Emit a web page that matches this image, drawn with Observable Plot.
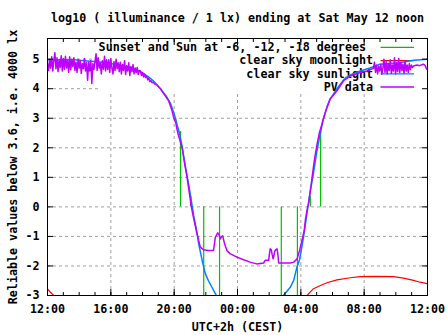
<!DOCTYPE html>
<html><head><meta charset="utf-8">
<script src="https://cdn.jsdelivr.net/npm/d3@7"></script>
<script src="https://cdn.jsdelivr.net/npm/@observablehq/plot@0.6"></script>
<style>body{margin:0;background:#fff}</style>
</head><body><div id="chart"></div>
<script>
// ---- texts ----
const title = "log10 ( illuminance / 1 lx) ending at Sat May 12 noon";
const xLabel = "UTC+2h (CEST)";
const yLabel = "Reliable values below 3.6, i.e. 4000 lx";
const keyLabels = ["Sunset and Sun at -6, -12, -18 degrees", "clear sky moonlight", "clear sky sunlight", "PV data"];
const keyColors = ["#00c000", "#ff0000", "#0080ff", "#c000ff"];

// ---- ticks ----
const xTickTimes = ["11 12:00","11 16:00","11 20:00","12 00:00","12 04:00","12 08:00","12 12:00"];
const xTickLabels = ["12:00","16:00","20:00","00:00","04:00","08:00","12:00"];
const yTicks = [-3,-2,-1,0,1,2,3,4,5];
const xDomain = ["11 12:00", "12 12:00"];
const yDomain = [-3, 5.7];
const keyLeftTime = "11 15:20";   // grid hidden behind the key box
const keyBottomValue = 3.86;

// ---- clear sky sunlight (blue) ----
const sunTimes = ["11 12:00","11 13:40","11 14:30","11 15:30","11 16:30","11 17:20","11 17:52","11 18:20","11 18:41","11 19:08","11 19:30","11 19:46","11 19:58","11 20:05","11 20:12","11 20:20","11 20:30","11 20:40","11 20:50","11 20:58","11 21:06","11 21:14","11 21:24","11 21:33","11 21:46","11 21:58","11 22:10","11 22:23","11 22:40","11 22:55",
  "12 02:40","12 02:54","12 03:20","12 03:33","12 03:45","12 03:55","12 04:00","12 04:10","12 04:23","12 04:36","12 04:48","12 05:01","12 05:14","12 05:26","12 05:39","12 05:51","12 06:17","12 06:42","12 07:07","12 07:45","12 08:22","12 09:00","12 10:16","12 11:07","12 12:00"];
const sunValues = [4.98,4.98,4.94,4.9,4.8,4.68,4.58,4.42,4.27,4.0,3.75,3.5,3.2,3.0,2.75,2.5,2.05,1.5,1.0,0.6,0.15,-0.3,-0.75,-1.25,-1.81,-2.26,-2.5,-2.72,-3.0,-3.3,
  -3.3,-3.0,-2.72,-2.49,-2.05,-1.79,-1.55,-1.03,-0.24,0.55,1.15,1.9,2.5,3.0,3.38,3.65,4.0,4.3,4.47,4.6,4.7,4.83,4.88,4.96,5.0];

// ---- clear sky moonlight (red) ----
const moonTimes = ["11 12:00","11 12:10","11 12:24","11 12:32","12 04:15","12 04:23","12 04:48","12 05:14","12 05:39","12 06:17","12 07:07","12 07:45","12 08:48","12 09:51","12 10:29","12 11:07","12 11:32","12 12:00"];
const moonValues = [-2.78,-2.88,-3.0,-3.3,-3.3,-3.0,-2.77,-2.66,-2.57,-2.47,-2.4,-2.36,-2.35,-2.36,-2.41,-2.49,-2.55,-2.6];

// ---- sunset and Sun at -6, -12 degrees (green) ----
const horizonTimes = ["11 20:24","11 21:03","11 21:52","11 22:52","12 02:46","12 03:47","12 04:36","12 05:15"];
const horizonLow  = [0, 0, -3, -3, -3, -3, 0, 0];
const horizonHigh = [2.55, 0.35, 0, 0, 0, 0, 0.35, 2.55];

// ---- PV data (purple) ----
const pvDayStart = "11 12:00", pvDayStepMin = 4;
const pvDay = [4.85,4.62,5.0,4.7,5.08,4.6,4.95,5.22,4.68,5.05,4.58,4.98,4.72,5.12,4.6,5.02,4.66,5.1,4.7,4.96,4.56,5.08,4.64,5.0,4.75,5.05,4.62,
  4.9,4.55,5.0,4.7,4.95,4.52,4.85,4.68,5.02,4.6,4.88,
  4.29,4.9,4.6,4.95,4.18,4.85,4.65,4.92,
  5.18,4.62,5.05,4.7,4.87,4.5,4.95,4.66,5.1,4.6,4.98,
  4.65,4.98,4.55,5.02,4.7,4.5,4.92,4.62,5.0,4.68,4.88,4.58,
  4.9,4.5,4.82,4.62,4.95,4.48,4.78,4.6,4.88,4.45,4.75,4.58,4.82,4.5,4.7,4.55,4.72,4.48,4.62,
  4.6,4.45,4.55,4.4,4.5,4.38,4.42,4.3,4.35,4.24,4.28,4.2];
const pvNightTimes = ["11 18:40","11 18:48","11 18:56","11 19:08","11 19:23","11 19:39","11 19:52","11 19:58","11 20:06","11 20:11","11 20:17","11 20:30","11 20:40","11 20:49","11 20:58","11 21:05","11 21:14","11 21:24","11 21:33","11 21:39","11 21:51","11 22:10","11 22:29","11 22:36","11 22:45","11 22:49","11 22:55","11 23:00","11 23:04","11 23:11","11 23:20","11 23:33","11 23:58",
  "12 00:23","12 00:48","12 01:13","12 01:39","12 01:45","12 01:58","12 02:01","12 02:04","12 02:08","12 02:11","12 02:15","12 02:17","12 02:21","12 02:25","12 02:30","12 02:33","12 02:36","12 03:20","12 03:33","12 03:46","12 03:55","12 04:04","12 04:13","12 04:17","12 04:23","12 04:29","12 04:37","12 04:46","12 04:51","12 04:55","12 05:01","12 05:10","12 05:20","12 05:26","12 05:39","12 05:51","12 06:17","12 06:42","12 07:07","12 07:45","12 08:10","12 08:35"];
const pvNightValues = [4.22,4.15,4.12,4.0,3.8,3.59,3.25,3.03,2.85,2.62,2.4,2.01,1.45,1.0,0.44,0.0,-0.4,-0.8,-1.14,-1.36,-1.45,-1.48,-1.48,-1.03,-0.88,-0.92,-1.08,-1.0,-0.98,-1.25,-1.48,-1.59,-1.7,
  -1.79,-1.87,-1.93,-1.9,-1.81,-1.81,-1.6,-1.42,-1.45,-1.6,-1.76,-1.7,-1.5,-1.45,-1.42,-1.6,-1.9,-1.9,-1.87,-1.76,-1.48,-1.14,-0.8,-0.46,-0.13,0.1,0.6,1.23,1.56,1.79,2.1,2.5,2.8,3.0,3.36,3.65,3.93,4.27,4.43,4.55,4.6,4.69];
const pvMornStart = "12 08:39", pvMornStepMin = 4;
const pvMorn = [4.9,4.55,4.8,4.5,4.75,4.6,4.83,4.49,4.7,5.0,4.55,4.92,4.5,4.85,4.62,4.98,4.52,4.8,4.6,5.05,4.5,4.88,4.58,5.02,4.55,4.9,4.62,4.83,4.52,4.95,4.6,4.8,4.55,4.85,4.65,4.8,4.72];
const pvTailTimes = ["12 11:07","12 11:20","12 11:30","12 11:44","12 11:50","12 11:57","12 12:00"];
const pvTailValues = [4.77,4.8,4.78,4.83,4.8,4.66,4.7];

// ---- build tables ----
const parse = d3.utcParse("%Y-%m-%d %H:%M");
const T = s => parse("2018-05-" + s);
const pairs = (ts, vs) => ts.map((t, i) => ({t: T(t), v: vs[i]}));
const stepped = (start, step, vs) => vs.map((v, i) => ({t: d3.utcMinute.offset(T(start), i * step), v}));
const sun = pairs(sunTimes, sunValues);
const moon = pairs(moonTimes, moonValues);
const horizon = horizonTimes.map((t, i) => ({t: T(t), lo: horizonLow[i], hi: horizonHigh[i]}));
const pv = [...stepped(pvDayStart, pvDayStepMin, pvDay), ...pairs(pvNightTimes, pvNightValues),
            ...stepped(pvMornStart, pvMornStepMin, pvMorn), ...pairs(pvTailTimes, pvTailValues)];
const xTicks = xTickTimes.map(T);
const labelOf = new Map(xTicks.map((d, i) => [+d, xTickLabels[i]]));
const minorTicks = d3.utcHour.range(T(xDomain[0]), d3.utcMinute.offset(T(xDomain[1]), 1));
const innerXTicks = xTicks.slice(1, -1);
const gridY = yTicks.filter(v => v > yDomain[0] && v < keyBottomValue);
const gridYKey = yTicks.filter(v => v >= keyBottomValue);

const gridStyle = {stroke: "#a0a0a0", strokeWidth: 1, strokeDasharray: "3,3"};

function keyMark(index, scales, values, dim) {
  const right = dim.width - dim.marginRight;
  const top = dim.marginTop;
  const g = d3.create("svg:g");
  keyLabels.forEach((label, i) => {
    const y = top + 9.4 + i * 13.2;
    g.append("text").attr("x", right - (i === 0 ? 61 : 54)).attr("y", y).attr("dy", "0.32em")
      .attr("text-anchor", "end").attr("fill", "black").text(label);
    g.append("line").attr("x1", right - 46.5).attr("x2", right - 13).attr("y1", y).attr("y2", y)
      .attr("stroke", keyColors[i]).attr("stroke-width", i === 3 ? 1.5 : 1.2);
  });
  return g.node();
}

const chart = Plot.plot({
  width: 447, height: 335,
  marginLeft: 47, marginRight: 20, marginTop: 38, marginBottom: 40,
  x: {type: "utc", domain: xDomain.map(T)},
  y: {domain: yDomain},
  style: {fontFamily: "'DejaVu Sans Mono', monospace", fontSize: "11.7px", fontWeight: "bold", background: "white", color: "black", overflow: "visible"},
  marks: [
    Plot.ruleY(gridY, {...gridStyle}),
    Plot.ruleY(gridYKey, {...gridStyle, x1: T(xDomain[0]), x2: T(keyLeftTime)}),
    Plot.ruleX(innerXTicks, {...gridStyle, y1: yDomain[0], y2: keyBottomValue}),
    keyMark,
    Plot.ruleX(horizon, {x: "t", y1: "lo", y2: "hi", stroke: keyColors[0], strokeWidth: 1.2, clip: true}),
    Plot.line(moon, {x: "t", y: "v", stroke: keyColors[1], strokeWidth: 1.2, clip: true}),
    Plot.line(sun, {x: "t", y: "v", stroke: keyColors[2], strokeWidth: 1.5, clip: true}),
    Plot.line(pv, {x: "t", y: "v", stroke: keyColors[3], strokeWidth: 1.5, clip: true}),
    Plot.frame({stroke: "black", strokeWidth: 1}),
    Plot.axisX({anchor: "bottom", ticks: xTicks, tickSize: -6, tickPadding: 15, tickFormat: d => labelOf.get(+d), label: null}),
    Plot.axisX({anchor: "bottom", ticks: minorTicks, tickSize: -3, fill: "none", label: null}),
    Plot.axisX({anchor: "top", ticks: xTicks, tickSize: -6, fill: "none", label: null}),
    Plot.axisX({anchor: "top", ticks: minorTicks, tickSize: -3, fill: "none", label: null}),
    Plot.axisY({anchor: "left", ticks: yTicks, tickSize: -6, tickPadding: 14, tickFormat: d => String(d), label: null}),
    Plot.axisY({anchor: "right", ticks: yTicks, tickSize: -6, fill: "none", label: null}),
    Plot.text([title], {text: d => d, frameAnchor: "top", dy: -20.5, lineAnchor: "middle", textAnchor: "middle"}),
    Plot.text([xLabel], {text: d => d, frameAnchor: "bottom", dy: 32, lineAnchor: "middle", textAnchor: "middle"}),
    Plot.text([yLabel], {text: d => d, frameAnchor: "left", dx: -34, rotate: -90, lineAnchor: "middle", textAnchor: "middle"})
  ]
});
document.getElementById("chart").append(chart);
</script>
</body></html>
